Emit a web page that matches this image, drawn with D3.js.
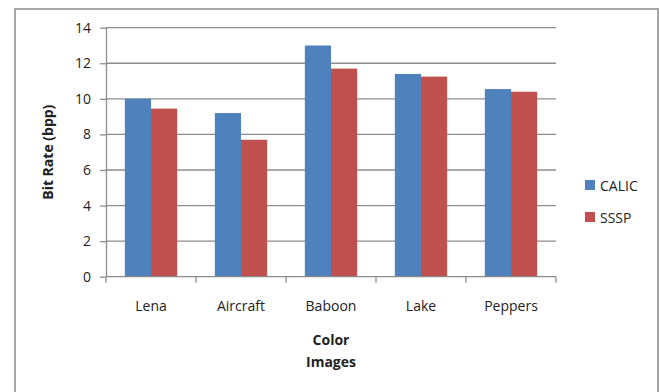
<!DOCTYPE html>
<meta charset="utf-8">
<style>
body { margin: 0; background: #fff; }
text { font-family: "Open Sans", "DejaVu Sans", sans-serif; fill: #222; }
.grid line { stroke: #8c8c8c; stroke-width: 1.3; }
.axis path, .axis line { stroke: #8c8c8c; stroke-width: 1.3; }
</style>
<svg width="660" height="392"></svg>
<script src="https://d3js.org/d3.v7.min.js"></script>
<script>

var categories = ["Lena", "Aircraft", "Baboon", "Lake", "Peppers"];
var series = ["CALIC", "SSSP"];
var calic = [10.0, 9.2, 13.0, 11.4, 10.55];
var sssp = [9.45, 7.7, 11.7, 11.25, 10.4];
var yTicks = [0, 2, 4, 6, 8, 10, 12, 14];
var colors = ["#4f81bd", "#c0504d"];

var svg = d3.select("svg");

// outer frame, bottom runs off the picture
svg.append("rect")
    .attr("x", 15).attr("y", 9)
    .attr("width", 643).attr("height", 400)
    .attr("fill", "none")
    .attr("stroke", "#a6a6a6")
    .attr("stroke-width", 2);

var plotLeft = 106, plotRight = 556, plotTop = 27.7, plotBottom = 276.7;

var x = d3.scaleBand().domain(categories).range([plotLeft, plotRight]);
var xs = d3.scaleBand().domain(series).range([0, x.bandwidth()]).paddingOuter(0.72).paddingInner(0);
var y = d3.scaleLinear().domain([0, 14]).range([plotBottom, plotTop]);

svg.append("g")
    .attr("class", "grid")
    .selectAll("line")
    .data(yTicks.slice(1))
  .enter().append("line")
    .attr("x1", plotLeft).attr("x2", plotRight)
    .attr("y1", function(d) { return y(d); })
    .attr("y2", function(d) { return y(d); });

var rows = categories.map(function(c, i) { return { cat: c, vals: [calic[i], sssp[i]] }; });

svg.append("g")
    .selectAll("g")
    .data(rows)
  .enter().append("g")
    .attr("transform", function(d) { return "translate(" + x(d.cat) + ",0)"; })
    .selectAll("rect")
    .data(function(d) { return d.vals.map(function(v, j) { return { s: series[j], v: v, j: j }; }); })
  .enter().append("rect")
    .attr("x", function(d) { return xs(d.s); })
    .attr("width", xs.bandwidth())
    .attr("y", function(d) { return y(d.v); })
    .attr("height", function(d) { return plotBottom - y(d.v); })
    .attr("fill", function(d) { return colors[d.j]; });

// y axis
var yAxis = svg.append("g")
    .attr("class", "axis")
    .attr("transform", "translate(" + plotLeft + ",0)")
    .call(d3.axisLeft(y).tickValues(yTicks).tickSize(6).tickSizeOuter(0).tickPadding(9));
yAxis.selectAll("text").style("font-size", "14px").attr("fill", "#222");

// x axis with ticks on band boundaries
var xAxis = svg.append("g")
    .attr("class", "axis")
    .attr("transform", "translate(0," + plotBottom + ")");
xAxis.append("line").attr("x1", plotLeft).attr("x2", plotRight);
xAxis.selectAll("line.tk")
    .data(d3.range(categories.length + 1))
  .enter().append("line")
    .attr("class", "tk")
    .attr("x1", function(i) { return plotLeft + i * x.step(); })
    .attr("x2", function(i) { return plotLeft + i * x.step(); })
    .attr("y1", 0).attr("y2", 6);
xAxis.selectAll("text")
    .data(categories)
  .enter().append("text")
    .attr("x", function(d) { return x(d) + x.bandwidth() / 2; })
    .attr("y", 34)
    .attr("text-anchor", "middle")
    .style("font-size", "14px")
    .text(function(d) { return d; });

// titles
svg.append("text")
    .attr("x", (plotLeft + plotRight) / 2).attr("y", 345)
    .attr("text-anchor", "middle")
    .style("font-size", "14px").style("font-weight", "bold")
    .text("Color");
svg.append("text")
    .attr("x", (plotLeft + plotRight) / 2).attr("y", 367)
    .attr("text-anchor", "middle")
    .style("font-size", "14px").style("font-weight", "bold")
    .text("Images");
svg.append("text")
    .attr("transform", "translate(53," + (plotTop + plotBottom) / 2 + ") rotate(-90)")
    .attr("text-anchor", "middle")
    .style("font-size", "14px").style("font-weight", "bold")
    .text("Bit Rate (bpp)");

// legend
var legend = svg.append("g")
    .selectAll("g")
    .data(series)
  .enter().append("g")
    .attr("transform", function(d, i) { return "translate(585," + (180 + i * 32) + ")"; });
legend.append("rect")
    .attr("width", 10).attr("height", 10)
    .attr("fill", function(d, i) { return colors[i]; });
legend.append("text")
    .attr("x", 15).attr("y", 10.5)
    .style("font-size", "14px")
    .text(function(d) { return d; });

</script>
